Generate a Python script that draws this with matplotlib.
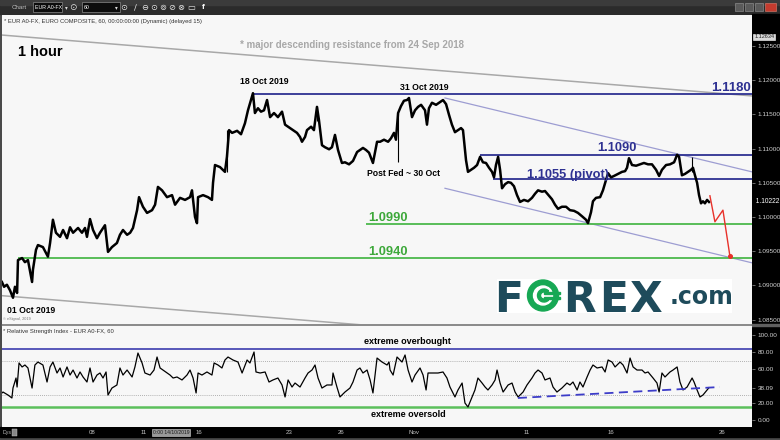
import matplotlib
matplotlib.use('Agg')
import matplotlib.pyplot as plt
from matplotlib.patches import Rectangle, Circle, Wedge

plt.rcParams['font.family'] = ['Liberation Sans', 'DejaVu Sans']

W, H = 780, 440  # output size in pixels

# EUR/USD hourly path, x = trading days counted from 01 Oct 2019
price_days = [
    -0.06, 0.06, 0.22, 0.39, 0.56, 0.67, 0.79, 0.84, 1.07, 1.23,
    1.40, 1.63, 1.68, 1.85, 1.96, 2.24, 2.52, 2.64, 2.80, 2.97,
    3.20, 3.37, 3.59, 3.76, 3.93, 4.21, 4.43, 4.60, 4.71, 4.88,
    5.05, 5.27, 5.44, 5.72, 5.89, 6.11, 6.39, 6.56, 6.73, 6.96,
    7.13, 7.29, 7.52, 7.63, 7.85, 8.08, 8.36, 8.53, 8.69, 8.92,
    9.20, 9.48, 9.65, 9.93, 10.21, 10.49, 10.60, 10.77, 10.88, 10.94,
    11.22, 11.50, 11.72, 11.78, 11.89, 12.17, 12.45, 12.56, 12.68, 12.85,
    13.13, 13.35, 13.57, 13.74, 13.91, 14.02, 14.13, 14.30, 14.47, 14.64,
    14.81, 14.98, 15.20, 15.42, 15.65, 15.82, 16.10, 16.32, 16.49, 16.66,
    16.77, 16.94, 17.05, 17.28, 17.44, 17.61, 17.72, 17.89, 18.06, 18.29,
    18.45, 18.62, 18.79, 19.01, 19.18, 19.41, 19.63, 19.86, 20.02, 20.19,
    20.36, 20.53, 20.75, 20.98, 21.15, 21.37, 21.60, 21.76, 21.93, 22.04,
    22.16, 22.32, 22.49, 22.66, 22.77, 22.94, 23.11, 23.28, 23.45, 23.67,
    23.78, 23.89, 24.06, 24.29, 24.51, 24.68, 24.85, 25.02, 25.18, 25.35,
    25.52, 25.69, 25.80, 25.97, 26.08, 26.25, 26.42, 26.59, 26.76, 26.92,
    27.09, 27.26, 27.43, 27.54, 27.65, 27.77, 27.88, 27.99, 28.16, 28.33,
    28.49, 28.66, 28.83, 29.00, 29.22, 29.45, 29.67, 29.84, 30.01, 30.23,
    30.40, 30.63, 30.79, 30.96, 31.13, 31.35, 31.58, 31.80, 32.03, 32.25,
    32.48, 32.70, 32.81, 32.98, 33.09, 33.26, 33.49, 33.65, 33.82, 33.94,
    34.10, 34.27, 34.50, 34.72, 34.89, 35.00, 35.11, 35.28, 35.51, 35.73,
    35.95, 36.18, 36.40, 36.63, 36.80, 36.96, 37.19, 37.41, 37.64, 37.81,
    37.92, 38.08, 38.25, 38.42, 38.59, 38.70, 38.81, 38.93, 39.04, 39.15,
    39.26, 39.37, 39.49, 39.60]
price_close = [
    1.0905, 1.0898, 1.0901, 1.0893, 1.0882, 1.0898, 1.0889, 1.0937, 1.0940, 1.0934,
    1.0937, 1.0905, 1.0923, 1.0952, 1.0959, 1.0956, 1.0942, 1.0962, 1.0996, 1.0977,
    1.0971, 1.0981, 1.0969, 1.0985, 1.0977, 1.0984, 1.0977, 1.0984, 1.0971, 1.0997,
    1.0981, 1.0969, 1.0977, 1.0988, 1.0949, 1.0956, 1.0962, 1.0974, 1.0981, 1.0974,
    1.0977, 1.0984, 1.1010, 1.1029, 1.1015, 1.1006, 1.1010, 1.1018, 1.1044, 1.1039,
    1.1029, 1.1032, 1.1018, 1.1028, 1.1025, 1.1029, 1.1039, 1.1000, 1.0991, 1.1029,
    1.1032, 1.1029, 1.1025, 1.1050, 1.1076, 1.1073, 1.1066, 1.1088, 1.1127, 1.1123,
    1.1126, 1.1121, 1.1137, 1.1156, 1.1171, 1.1181, 1.1152, 1.1159, 1.1154, 1.1156,
    1.1171, 1.1146, 1.1152, 1.1146, 1.1154, 1.1135, 1.1130, 1.1126, 1.1123, 1.1117,
    1.1110, 1.1117, 1.1127, 1.1132, 1.1127, 1.1161, 1.1142, 1.1105, 1.1102, 1.1099,
    1.1102, 1.1120, 1.1098, 1.1079, 1.1080, 1.1077, 1.1082, 1.1095, 1.1098, 1.1101,
    1.1098, 1.1094, 1.1079, 1.1110, 1.1110, 1.1113, 1.1110, 1.1115, 1.1123, 1.1113,
    1.1152, 1.1162, 1.1170, 1.1171, 1.1174, 1.1146, 1.1156, 1.1161, 1.1164, 1.1156,
    1.1135, 1.1159, 1.1167, 1.1164, 1.1168, 1.1171, 1.1165, 1.1149, 1.1135, 1.1124,
    1.1127, 1.1130, 1.1127, 1.1083, 1.1066, 1.1069, 1.1072, 1.1076, 1.1088, 1.1080,
    1.1079, 1.1072, 1.1066, 1.1058, 1.1076, 1.1088, 1.1069, 1.1042, 1.1048, 1.1051,
    1.1050, 1.1045, 1.1032, 1.1022, 1.1025, 1.1023, 1.1028, 1.1034, 1.1039, 1.1037,
    1.1038, 1.1031, 1.1026, 1.1018, 1.1012, 1.1015, 1.1015, 1.1010, 1.1009, 1.1006,
    1.1001, 1.0996, 1.0991, 1.1007, 1.1023, 1.1028, 1.1029, 1.1039, 1.1054, 1.1064,
    1.1058, 1.1060, 1.1063, 1.1066, 1.1067, 1.1072, 1.1086, 1.1076, 1.1075, 1.1077,
    1.1079, 1.1077, 1.1077, 1.1069, 1.1060, 1.1069, 1.1076, 1.1077, 1.1080, 1.1091,
    1.1088, 1.1061, 1.1063, 1.1066, 1.1069, 1.1072, 1.1061, 1.1050, 1.1032, 1.1020,
    1.1023, 1.1020, 1.1025, 1.1022]
last_price = 1.10222

# a few long wicks that stick out of the candle band
wick_days = [12.56, 17.61, 22.16, 38.65]
wick_low = [1.1066, 1.1140, 1.1080, 1.1066]
wick_high = [1.1127, 1.1163, 1.1152, 1.1087]

# RSI(14) on the same hourly bars
rsi_days = [
    -0.06, 0.00, 0.28, 0.50, 0.56, 0.73, 0.79, 0.90, 1.07, 1.23,
    1.40, 1.63, 1.79, 1.96, 2.24, 2.47, 2.64, 2.80, 3.03, 3.20,
    3.37, 3.59, 3.76, 3.93, 4.15, 4.32, 4.49, 4.71, 4.88, 5.05,
    5.27, 5.44, 5.61, 5.78, 5.89, 6.11, 6.39, 6.56, 6.73, 6.96,
    7.24, 7.40, 7.57, 7.80, 7.96, 8.25, 8.47, 8.64, 8.81, 8.97,
    9.20, 9.37, 9.54, 9.76, 10.04, 10.32, 10.49, 10.66, 10.83, 10.94,
    11.16, 11.44, 11.72, 11.84, 12.06, 12.28, 12.45, 12.62, 12.90, 13.18,
    13.41, 13.69, 13.85, 14.08, 14.19, 14.42, 14.70, 14.92, 15.14, 15.42,
    15.65, 15.82, 15.99, 16.21, 16.38, 16.66, 16.94, 17.11, 17.33, 17.50,
    17.67, 17.89, 18.17, 18.45, 18.51, 18.73, 18.90, 19.18, 19.46, 19.63,
    19.86, 20.02, 20.19, 20.42, 20.59, 20.75, 20.98, 21.26, 21.54, 21.65,
    21.71, 21.88, 22.10, 22.38, 22.55, 22.72, 22.94, 23.11, 23.39, 23.56,
    23.73, 23.84, 24.12, 24.40, 24.68, 24.90, 25.07, 25.35, 25.52, 25.75,
    25.91, 26.08, 26.31, 26.47, 26.64, 26.87, 27.04, 27.20, 27.43, 27.60,
    27.71, 27.88, 28.05, 28.33, 28.55, 28.72, 28.89, 29.17, 29.39, 29.67,
    29.84, 30.01, 30.23, 30.40, 30.68, 30.85, 31.07, 31.35, 31.63, 31.80,
    31.97, 32.20, 32.36, 32.53, 32.76, 32.93, 33.09, 33.32, 33.60, 33.77,
    33.94, 34.16, 34.33, 34.61, 34.78, 35.00, 35.17, 35.34, 35.56, 35.84,
    36.01, 36.18, 36.46, 36.68, 36.80, 36.96, 37.13, 37.41, 37.58, 37.81,
    37.97, 38.14, 38.37, 38.65, 38.76, 38.93, 39.09, 39.26, 39.49, 39.60]
rsi_vals = [
    31.8, 32.9, 29.4, 25.9, 37.6, 49.4, 38.8, 67.1, 62.4, 64.7,
    61.2, 37.6, 64.7, 68.2, 64.7, 44.7, 62.4, 68.2, 55.3, 61.2,
    50.6, 62.4, 52.9, 58.8, 49.4, 56.5, 50.6, 44.7, 61.2, 44.7,
    52.9, 55.3, 49.4, 56.5, 29.4, 37.6, 41.2, 61.2, 52.9, 58.8,
    50.6, 62.4, 78.8, 67.1, 55.3, 52.9, 58.8, 74.1, 61.2, 58.8,
    55.3, 52.9, 49.4, 50.6, 47.1, 52.9, 58.8, 49.4, 31.8, 55.3,
    52.9, 56.5, 52.9, 67.1, 64.7, 61.2, 70.6, 74.1, 70.6, 68.2,
    55.3, 70.6, 67.1, 80.0, 56.5, 55.3, 56.5, 44.7, 47.1, 49.4,
    41.2, 27.1, 47.1, 38.8, 43.5, 38.8, 49.4, 55.3, 58.8, 64.7,
    49.4, 37.6, 41.2, 41.2, 55.3, 38.8, 27.1, 32.9, 37.6, 44.7,
    58.8, 61.2, 55.3, 58.8, 47.1, 31.8, 72.9, 68.2, 64.7, 68.2,
    58.8, 52.9, 74.1, 68.2, 76.5, 58.8, 44.7, 52.9, 61.2, 52.9,
    35.3, 55.3, 55.3, 55.3, 56.5, 49.4, 38.8, 27.1, 35.3, 43.5,
    20.0, 15.3, 27.1, 35.3, 49.4, 43.5, 38.8, 35.3, 41.2, 47.1,
    58.8, 43.5, 32.9, 41.2, 43.5, 32.9, 27.1, 32.9, 41.2, 49.4,
    55.3, 58.8, 55.3, 47.1, 49.4, 38.8, 32.9, 37.6, 43.5, 41.2,
    44.7, 35.3, 44.7, 38.8, 50.6, 58.8, 64.7, 61.2, 62.4, 56.5,
    70.6, 68.2, 62.4, 68.2, 64.7, 55.3, 72.9, 62.4, 58.8, 58.8,
    55.3, 56.5, 49.4, 43.5, 32.9, 55.3, 50.6, 56.5, 58.8, 62.4,
    44.7, 35.3, 38.8, 49.4, 44.7, 35.3, 27.1, 29.4, 35.3, 38.1]

# horizontal levels and the day each one starts
resist_levels = [1.1180, 1.1090, 1.1055]
resist_start = [14.02, 26.76, 27.48]
support_levels = [1.0990, 1.0940]
support_start = [20.36, 0.84]

# trend lines as (day, price) end points
major_res_days = [-0.06, 42.01]
major_res_prices = [1.1266, 1.1177]
lower_line_days = [-0.06, 42.01]
lower_line_prices = [1.0885, 1.0796]
channel_days = [24.79, 42.01]
channel_top = [1.1174, 1.1066]
channel_bottom = [1.1042, 1.0933]

# projected path
proj_days = [39.65, 39.93, 40.38, 40.77]
proj_prices = [1.1031, 1.0993, 1.1010, 1.0943]

rsi_trend_days = [28.88, 40.21]
rsi_trend_vals = [25.9, 38.8]
rsi_overbought = 83.5
rsi_oversold = 15.3

price_ticks = [1.085, 1.090, 1.095, 1.100, 1.105, 1.110, 1.115, 1.120, 1.125]
rsi_ticks = [0, 20, 38.09, 60, 80, 100]
rsi_tick_labels = ['0.00', '20.00', '38.09', '60.00', '80.00', '100.00']
date_tick_days = [4.99, 7.91, 10.99, 16.04, 18.96, 23.05, 29.39, 34.10, 40.33]
date_tick_labels = ['08', '11', '16', '23', '26', 'Nov', '11', '16', '26']

XMIN, XMAX = -0.056, 42.01

NAVY = '#2e3192'
GREEN = '#4cb84c'
GREEN_TXT = '#3da83a'


def box(x0, y0, x1, y1):
    # pixel box (top-left origin) -> figure fraction rect
    return [x0 / W, 1 - y1 / H, (x1 - x0) / W, (y1 - y0) / H]


fig = plt.figure(figsize=(W / 100, H / 100), dpi=100)
fig.patch.set_facecolor('#4a4a4a')


def put(x, y, s, **kw):
    kw.setdefault('va', 'center')
    fig.text(x / W, 1 - y / H, s, **kw)


def block(x0, y0, x1, y1, **kw):
    r = Rectangle((x0 / W, 1 - y1 / H), (x1 - x0) / W, (y1 - y0) / H,
                  transform=fig.transFigure, **kw)
    fig.add_artist(r)


# window chrome
block(0, 0, 780, 14, color='#2b2b2b', zorder=-1)
block(0, 0, 780, 5, color='#3b3b3b', zorder=-1)
block(752, 14, 780, 427, color='black', zorder=-1)
block(0, 427, 780, 437, color='black', zorder=-1)
block(2, 324, 752, 326, color='#8c8c8c', zorder=-1)
block(752, 324, 780, 326, color='#606060', zorder=-1)

put(12, 7.5, 'Chart', size=4.5, color='#bdbdbd')
block(33, 2, 62, 12, facecolor='#0c0c0c', edgecolor='#8a8a8a', lw=0.5)
put(35, 7.5, 'EUR A0-FX', size=3.8, color='white')
put(65, 7.5, '▾', size=4, color='#dddddd', family='DejaVu Sans')
put(73, 7.5, '⊙', size=6.5, color='#e0e0e0', ha='center', family='DejaVu Sans')
block(82, 2, 120, 12, facecolor='#0c0c0c', edgecolor='#8a8a8a', lw=0.5)
put(84, 7.5, '60', size=3.8, color='white')
put(115, 7.5, '▾', size=4, color='#dddddd', family='DejaVu Sans')
for xx, g in zip([124, 135, 145, 154, 163, 172, 181, 191],
                 ['⊙', '∕', '⊖', '⊙', '⊚', '⊘', '⊗', '▭']):
    put(xx, 7.5, g, size=6, color='#e6e6e6', ha='center', family='DejaVu Sans')
put(203, 7.5, 'f', size=6, color='white', weight='bold', ha='center')
for xx in [735, 745, 755]:
    block(xx, 3, xx + 8, 11, facecolor='#5a5a5a', edgecolor='#9a9a9a', lw=0.4)
block(765, 3, 776, 11, facecolor='#c43b2e', edgecolor='#e08070', lw=0.4)

# ---- price panel ----
ax = fig.add_axes(box(2, 15, 752, 324))
ax.set_facecolor('#f7f7f7')
ax.plot(major_res_days, major_res_prices, color='#a8a8a8', lw=1.1)
ax.plot(lower_line_days, lower_line_prices, color='#a8a8a8', lw=1.1)
ax.plot(channel_days, channel_top, color='#9d9dd2', lw=0.9)
ax.plot(channel_days, channel_bottom, color='#9d9dd2', lw=0.9)
for lvl, st in zip(resist_levels, resist_start):
    ax.hlines(lvl, st, XMAX, color=NAVY, lw=1.3)
for lvl, st in zip(support_levels, support_start):
    ax.hlines(lvl, st, XMAX, color=GREEN, lw=1.3)
ax.vlines(wick_days, wick_low, wick_high, color='black', lw=0.8)
ax.plot(price_days, price_close, color='black', lw=1.8)
ax.plot(proj_days, proj_prices, color='#e8312a', lw=1.0)
ax.plot(proj_days[-1], proj_prices[-1], 'o', color='#e8312a', ms=2.6)

ax.set_xlim(XMIN, XMAX)
ax.set_ylim(1.08436, 1.12953)
ax.set_xticks([])
ax.yaxis.tick_right()
ax.set_yticks(price_ticks)
ax.set_yticklabels([f'{t:.5f}' for t in price_ticks])
ax.tick_params(axis='y', colors='#9a9a9a', labelcolor='#d0d0d0', labelsize=4.6,
               length=2, width=0.5, pad=2)
for sp in ax.spines.values():
    sp.set_visible(False)
ax.text(1.0, last_price, '  1.10222', transform=ax.get_yaxis_transform(),
        color='white', fontsize=4.8, va='center', ha='left', clip_on=False)
ax.text(1.003, 1.12632, '1.12634', transform=ax.get_yaxis_transform(),
        color='#222222', fontsize=4.0, va='center', ha='left', clip_on=False,
        bbox=dict(boxstyle='square,pad=0.15', fc='#d8d8d8', ec='#ffffff', lw=0.4))

# ---- RSI panel ----
ax2 = fig.add_axes(box(2, 326, 752, 427))
ax2.set_facecolor('#f7f7f7')
ax2.axhline(rsi_overbought, color='#4b4bb4', lw=1.3)
ax2.axhline(rsi_oversold, color='#5cc05c', lw=1.8)
ax2.axhline(70, color='#9a9a9a', lw=0.6, ls=(0, (1, 1.5)))
ax2.axhline(30, color='#9a9a9a', lw=0.6, ls=(0, (1, 1.5)))
ax2.plot(rsi_days, rsi_vals, color='black', lw=0.9)
ax2.plot(rsi_trend_days, rsi_trend_vals, color='#3c3cc8', lw=1.3, ls=(0, (5, 3)))
ax2.set_xlim(XMIN, XMAX)
ax2.set_ylim(-8.24, 110.6)
ax2.yaxis.tick_right()
ax2.set_yticks(rsi_ticks)
ax2.set_yticklabels(rsi_tick_labels)
ax2.tick_params(axis='y', colors='#9a9a9a', labelcolor='#d0d0d0', labelsize=4.6,
                length=2, width=0.5, pad=2)
ax2.set_xticks(date_tick_days)
ax2.set_xticklabels(date_tick_labels)
ax2.tick_params(axis='x', labelcolor='#c0c0c0', labelsize=4.4, length=0, pad=2.5)
for sp in ax2.spines.values():
    sp.set_visible(False)

# ---- annotations ----
put(4, 22, '* EUR A0-FX, EURO COMPOSITE, 60, 00:00:00:00 (Dynamic) (delayed 15)',
    size=4.2, color='#333333')
put(18, 52, '1 hour', size=10.5, weight='bold', color='black')
put(240, 45, '* major descending resistance from 24 Sep 2018', size=7.0,
    weight='bold', color='#a8a8a8')
put(264, 82, '18 Oct 2019', size=6.3, weight='bold', ha='center')
put(424, 87, '31 Oct 2019', size=6.3, weight='bold', ha='center')
put(751, 88, '1.1180', size=9.5, weight='bold', color=NAVY, ha='right')
put(617, 148, '1.1090', size=9.3, weight='bold', color=NAVY, ha='center')
put(568, 175, '1.1055 (pivot)', size=9.3, weight='bold', color=NAVY, ha='center')
put(367, 173, 'Post Fed ~ 30 Oct', size=6.2, weight='bold')
put(368, 218, '1.0990', size=9.3, weight='bold', color=GREEN_TXT)
put(368, 252, '1.0940', size=9.3, weight='bold', color=GREEN_TXT)
put(7, 310, '01 Oct 2019', size=6.2, weight='bold')
put(3, 319, '© eSignal, 2019', size=2.8, color='#777777')
put(3, 332, '* Relative Strength Index - EUR A0-FX, 60', size=4.2, color='#333333')
put(364, 342, 'extreme overbought', size=6.5, weight='bold')
put(371, 414, 'extreme oversold', size=6.5, weight='bold')

put(3, 432, 'Dys', size=3.8, color='#bbbbbb')
block(12, 428.5, 17, 435.5, facecolor='#888888', edgecolor='#cccccc', lw=0.3)
put(171, 432, '0:00 14/10/2019', size=3.6, color='#1a1a1a', ha='center',
    bbox=dict(boxstyle='square,pad=0.2', fc='#9a9a9a', ec='#d0d0d0', lw=0.4))

# ---- FOREX.com logo ----
lg = fig.add_axes(box(497, 279, 732, 313))
lg.set_zorder(5)
lg.set_facecolor('white')
lg.set_xlim(0, 235)
lg.set_ylim(0, 34)
lg.set_xticks([])
lg.set_yticks([])
for sp in lg.spines.values():
    sp.set_visible(False)
TEAL = '#1e4b5b'
LOGO_GREEN = '#17a854'
for xx, ch in zip([-3, 66, 102, 132], ['F', 'R', 'E', 'X']):
    lg.text(xx, 1, ch, fontsize=30.5, weight='bold', color=TEAL,
            family='DejaVu Sans', ha='left', va='baseline')
lg.add_patch(Circle((46, 17.5), 15.5, color=LOGO_GREEN))
lg.add_patch(Circle((46, 17.5), 9.5, color='white'))
lg.add_patch(Wedge((47, 17.5), 6.5, 45, 315, width=3, color=LOGO_GREEN))
lg.add_patch(Rectangle((47, 19.0), 16, 2.4, color=LOGO_GREEN))
lg.add_patch(Rectangle((47, 13.6), 16, 2.4, color=LOGO_GREEN))

lg.text(173, 9, '.com', fontsize=17, weight='bold', color=TEAL,
        family='DejaVu Sans', ha='left', va='baseline')

fig.savefig('out.png', dpi=100, facecolor=fig.get_facecolor())
